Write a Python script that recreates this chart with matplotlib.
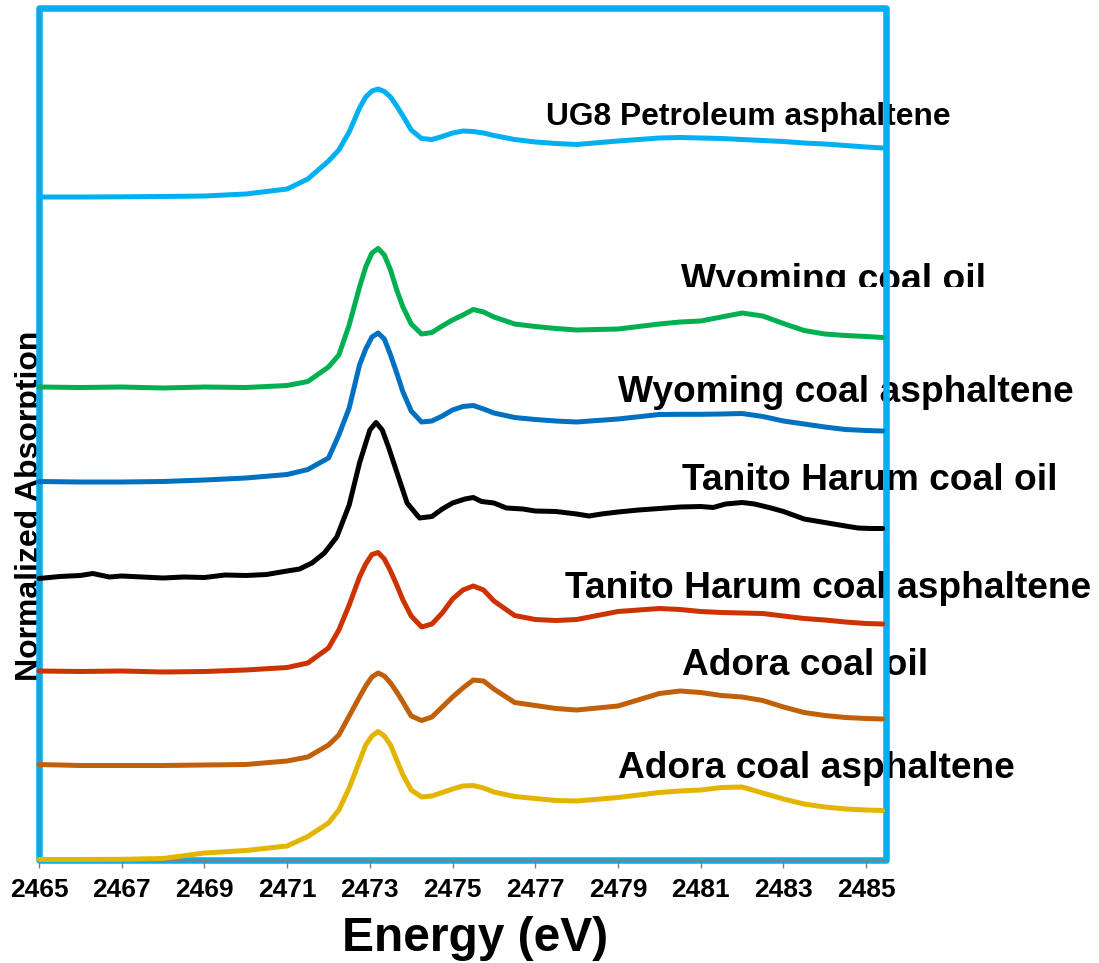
import matplotlib
matplotlib.use("Agg")
import matplotlib.pyplot as plt
from matplotlib.patches import Rectangle
from matplotlib.transforms import Bbox, TransformedBbox

plt.rcParams['font.family'] = ['Liberation Sans', 'DejaVu Sans']

# ---------------- data (energy in eV, stacked normalized absorption) ----------------
energy = [2465, 2466, 2467, 2468, 2469, 2470, 2471, 2471.5, 2472, 2472.25, 2472.5,
          2472.75, 2472.9, 2473.05, 2473.2, 2473.35, 2473.5, 2473.65, 2473.8, 2474,
          2474.25, 2474.5, 2474.75,
          2475, 2475.25, 2475.5, 2475.75, 2476, 2476.5, 2477, 2477.5, 2478, 2479,
          2480, 2480.5, 2481, 2481.5, 2482, 2482.5, 2483, 2483.5, 2484, 2484.5,
          2485, 2485.4]

ug8_petroleum_asph = [6.63, 6.63, 6.632, 6.635, 6.64, 6.66, 6.71, 6.81, 6.99, 7.10, 7.28,
                      7.52, 7.63, 7.69, 7.71, 7.685, 7.63, 7.54, 7.44, 7.30,
                      7.215, 7.205, 7.235,
                      7.27, 7.29, 7.285, 7.27, 7.245, 7.205, 7.18, 7.165, 7.155, 7.19,
                      7.22, 7.225, 7.22, 7.215, 7.205, 7.195, 7.185, 7.17, 7.16, 7.145,
                      7.13, 7.12]

wyoming_oil = [4.73, 4.725, 4.73, 4.72, 4.73, 4.725, 4.745, 4.785, 4.93, 5.05, 5.35,
               5.73, 5.93, 6.07, 6.115, 6.05, 5.90, 5.70, 5.53, 5.36,
               5.26, 5.275, 5.34,
               5.40, 5.45, 5.505, 5.48, 5.43, 5.36, 5.335, 5.315, 5.30, 5.31,
               5.36, 5.38, 5.39, 5.43, 5.47, 5.44, 5.365, 5.295, 5.26, 5.245,
               5.235, 5.225]

wyoming_asph = [3.785, 3.78, 3.78, 3.785, 3.80, 3.82, 3.855, 3.905, 4.02, 4.25, 4.52,
                4.95, 5.11, 5.23, 5.27, 5.21, 5.05, 4.87, 4.68, 4.49,
                4.38, 4.39, 4.44,
                4.50, 4.535, 4.545, 4.51, 4.47, 4.425, 4.405, 4.39, 4.38, 4.41,
                4.455, 4.457, 4.457, 4.46, 4.465, 4.435, 4.39, 4.36, 4.33, 4.305,
                4.295, 4.29]

energy_tanito_oil = [2465, 2465.5, 2466, 2466.3, 2466.7, 2467, 2467.5, 2468, 2468.5, 2469,
                     2469.5, 2470, 2470.5, 2471, 2471.3, 2471.6, 2471.9, 2472.2, 2472.5, 2472.75,
                     2473, 2473.15, 2473.3, 2473.45, 2473.65, 2473.9, 2474.2, 2474.5, 2474.75,
                     2475, 2475.3,
                     2475.5, 2475.7, 2476, 2476.3, 2476.7, 2477, 2477.5, 2478, 2478.3, 2478.6,
                     2479, 2479.5, 2480, 2480.5, 2481, 2481.3, 2481.6, 2482, 2482.3, 2482.7,
                     2483, 2483.5, 2484, 2484.5, 2484.8, 2485.1, 2485.4]
tanito_oil = [2.815, 2.835, 2.845, 2.865, 2.83, 2.84, 2.83, 2.82, 2.83, 2.825,
              2.85, 2.845, 2.855, 2.89, 2.91, 2.97, 3.07, 3.23, 3.55, 3.97,
              4.30, 4.375, 4.30, 4.13, 3.88, 3.57, 3.42, 3.435, 3.51,
              3.57, 3.61,
              3.625, 3.585, 3.57, 3.52, 3.51, 3.49, 3.485, 3.46, 3.44, 3.46,
              3.48, 3.50, 3.515, 3.53, 3.535, 3.525, 3.56, 3.575, 3.56, 3.52,
              3.485, 3.41, 3.375, 3.34, 3.32, 3.315, 3.315]

tanito_asph = [1.89, 1.885, 1.89, 1.88, 1.885, 1.90, 1.925, 1.97, 2.12, 2.30, 2.55,
               2.83, 2.96, 3.055, 3.075, 3.01, 2.89, 2.75, 2.60, 2.44,
               2.33, 2.36, 2.47,
               2.61, 2.70, 2.74, 2.70, 2.59, 2.445, 2.405, 2.395, 2.405, 2.485,
               2.515, 2.505, 2.485, 2.475, 2.47, 2.465, 2.44, 2.415, 2.40, 2.38,
               2.365, 2.36]

adora_oil = [0.955, 0.945, 0.945, 0.945, 0.95, 0.955, 0.99, 1.03, 1.15, 1.25, 1.44,
             1.63, 1.74, 1.83, 1.87, 1.84, 1.77, 1.68, 1.58, 1.44,
             1.395, 1.43, 1.53,
             1.63, 1.72, 1.80, 1.79, 1.71, 1.575, 1.545, 1.515, 1.50, 1.54,
             1.665, 1.69, 1.675, 1.645, 1.63, 1.595, 1.53, 1.475, 1.445, 1.425,
             1.415, 1.41]

adora_asph = [0.005, 0.005, 0.007, 0.015, 0.07, 0.095, 0.14, 0.235, 0.37, 0.50, 0.72,
              0.99, 1.15, 1.24, 1.285, 1.24, 1.15, 1.00, 0.85, 0.70,
              0.63, 0.64, 0.675,
              0.71, 0.74, 0.745, 0.72, 0.68, 0.635, 0.615, 0.595, 0.59, 0.625,
              0.675, 0.69, 0.70, 0.725, 0.73, 0.67, 0.61, 0.56, 0.53, 0.51,
              0.50, 0.495]

labels = ["UG8 Petroleum asphaltene", "Wyoming coal oil", "Wyoming coal asphaltene",
          "Tanito Harum coal oil", "Tanito Harum coal asphaltene", "Adora coal oil",
          "Adora coal asphaltene"]
xticks = [2465, 2467, 2469, 2471, 2473, 2475, 2477, 2479, 2481, 2483, 2485]

# ---------------- figure ----------------
W, H = 1099, 963
fig = plt.figure(figsize=(W / 100, H / 100), dpi=100)
L, R, T, B = 39, 886, 8.3, 860
ax = fig.add_axes([L / W, (H - B) / H, (R - L) / W, (B - T) / H])
ax.set_xlim(2465, 2485.48)
ax.set_ylim(0, 8.517)

colors = ["#00B0F0", "#00B050", "#0070C0", "#000000", "#CC3300", "#C0600A", "#E3B500"]
series = [(energy, ug8_petroleum_asph), (energy, wyoming_oil), (energy, wyoming_asph),
          (energy_tanito_oil, tanito_oil), (energy, tanito_asph), (energy, adora_oil),
          (energy, adora_asph)]
for (x, y), c in zip(series, colors):
    ax.plot(x, y, color=c, lw=3.6, solid_capstyle='round', solid_joinstyle='round',
            zorder=3, clip_on=False)

# cyan plot-area frame
ax.add_patch(Rectangle((0, 0), 1, 1, transform=ax.transAxes, fill=False,
                       edgecolor="#00B0F0", lw=4.7, zorder=1.5, clip_on=False,
                       joinstyle='round'))

for s in ['top', 'right']:
    ax.spines[s].set_visible(False)
for s in ['left', 'bottom']:
    ax.spines[s].set_color('#808080')
    ax.spines[s].set_linewidth(1.0)
    ax.spines[s].set_zorder(2)

ax.set_yticks([])
ax.set_xticks(xticks)
ax.set_xticklabels([str(t) for t in xticks], fontsize=19, fontweight='bold')
ax.tick_params(axis='x', direction='out', length=6, width=1, color='#808080', pad=7)

# curve labels (pixel positions of left edge / baseline)
def ftxt(px, py, s, size, **kw):
    return ax.text(px / W, 1 - py / H, s, transform=fig.transFigure, fontsize=size,
                   fontweight='bold', ha='left', va='baseline', zorder=1, **kw)

ftxt(546, 124.5, labels[0], 22.9, clip_on=False)
t = ftxt(681, 289.8, labels[1], 26.7)
t.set_clip_on(True)
t.set_clip_box(TransformedBbox(Bbox([[0, 1 - 286.7 / H], [1, 1]]), fig.transFigure))
ftxt(618, 401.7, labels[2], 26.7, clip_on=False)
ftxt(682, 490, labels[3], 26.7, clip_on=False)
ftxt(565, 598.3, labels[4], 26.7, clip_on=False)
ftxt(682, 675, labels[5], 26.7, clip_on=False)
ftxt(618, 778.3, labels[6], 26.7, clip_on=False)

# axis titles
fig.text(475 / W, 1 - 951 / H, "Energy (eV)", fontsize=34.5, fontweight='bold',
         ha='center', va='baseline')
fig.text(38.3 / W, 1 - 506 / H, "Normalized Absorption", fontsize=23, fontweight='bold',
         rotation=90, rotation_mode='anchor', ha='center', va='baseline', zorder=-1)

fig.savefig("out.png", dpi=100)
